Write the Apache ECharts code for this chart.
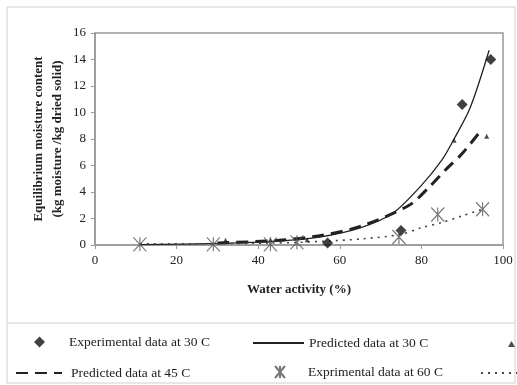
<!DOCTYPE html>
<html>
<head>
<meta charset="utf-8">
<script src="https://cdn.jsdelivr.net/npm/echarts@6/dist/echarts.min.js"></script>
<style>
  html, body { margin: 0; padding: 0; background: #fff; }
  #container { width: 517px; height: 385px; }
</style>
</head>
<body>
<div id="container"></div>
<script>
let xTicks = [0, 20, 40, 60, 80, 100];
let yTicks = [0, 2, 4, 6, 8, 10, 12, 14, 16];
let seriesNames = [
  "Experimental data at 30 C",
  "Predicted data at 30 C",
  "Experimental data at 45 C",
  "Predicted data at 45 C",
  "Exprimental data at 60 C",
  "Predicted data at 60 C"
];
// [water activity %, moisture content]
let exp30 = [[57, 0.15], [75, 1.1], [90, 10.6], [97, 14]];
let pred30 = [[11, 0.03], [30, 0.12], [45, 0.3], [55, 0.6], [65, 1.3], [73, 2.4], [80, 4.5], [85, 6.4], [88, 8.0], [92, 10.4], [96.6, 14.7]];
let exp45 = [[32, 0.35], [43, 0.4], [52, 0.4], [88, 7.9], [96, 8.2]];
let pred45 = [[30, 0.15], [45, 0.35], [55, 0.7], [65, 1.4], [77, 3.0], [82, 4.4], [86, 5.7], [90, 6.9], [95, 8.8]];
let exp60 = [[11, 0.05], [29, 0.05], [43, 0.05], [49.5, 0.2], [74.5, 0.6], [84, 2.3], [95, 2.7]];
let pred60 = [[11, 0.1], [29, 0.1], [43, 0.15], [50, 0.2], [57, 0.3], [65, 0.45], [75, 0.8], [80, 1.3], [85, 1.7], [90, 2.2], [95, 2.7]];

let serif = "Liberation Serif";
let ink = "#222";
let asterisk = "path://M0,0L10,12M10,0L0,12M5,0L5,12";

let dom = document.getElementById("container");
let myChart = echarts.init(dom, null, { renderer: "canvas" });

function legendAt(item, left, top, w, h, padLeft, hideSymbol) {
  let lg = {
    data: [item],
    left: left,
    top: top,
    itemWidth: w,
    itemHeight: h,
    padding: 0,
    selectedMode: false,
    textStyle: { fontFamily: serif, fontSize: 13.5, color: ink, padding: [0, 0, 0, padLeft] }
  };
  if (hideSymbol) {
    lg.itemStyle = { opacity: 0, borderWidth: 0 };
  }
  return lg;
}

let option = {
  animation: false,
  backgroundColor: "#fff",
  graphic: [
    {
      type: "rect",
      shape: { x: 7, y: 7, width: 508, height: 376 },
      style: { fill: "none", stroke: "#d0d0d0", lineWidth: 1 }
    },
    {
      type: "line",
      shape: { x1: 7, y1: 323, x2: 515, y2: 323 },
      style: { stroke: "#d0d0d0", lineWidth: 1 }
    }
  ],
  legend: [
    legendAt({ name: seriesNames[0], icon: "diamond" }, 34, 335, 11, 11, 19, false),
    legendAt(seriesNames[1], 252, 336, 51, 10, 0, true),
    legendAt({ name: seriesNames[2], icon: "triangle" }, 508, 337, 7, 6, 0, false),
    legendAt(seriesNames[3], 15, 366, 46, 10, 4, true),
    legendAt(seriesNames[4], 274, 365, 12, 12, 17, false),
    legendAt(seriesNames[5], 480, 366, 40, 10, 0, true)
  ],
  grid: {
    left: 95,
    right: 14,
    top: 33,
    bottom: 140,
    show: true,
    borderColor: "#999",
    borderWidth: 1.5
  },
  xAxis: {
    type: "value",
    min: xTicks[0],
    max: xTicks[xTicks.length - 1],
    interval: 20,
    name: "Water activity (%)",
    nameLocation: "middle",
    nameGap: 38,
    nameTextStyle: { fontFamily: serif, fontSize: 13, fontWeight: "bold", color: ink },
    axisLine: { lineStyle: { color: "#999", width: 1.5 } },
    axisTick: { show: true, length: 4, lineStyle: { color: "#999" } },
    splitLine: { show: false },
    axisLabel: { fontFamily: serif, fontSize: 13, color: ink, margin: 9 }
  },
  yAxis: {
    type: "value",
    min: yTicks[0],
    max: yTicks[yTicks.length - 1],
    interval: 2,
    name: "Equilibrium moisture content\n(kg moisture /kg dried solid)",
    nameLocation: "middle",
    nameRotate: 90,
    nameGap: 28,
    nameMoveOverlap: false,
    nameTextStyle: { fontFamily: serif, fontSize: 13, fontWeight: "bold", color: ink, lineHeight: 19 },
    axisLine: { show: true, lineStyle: { color: "#999", width: 1.5 } },
    axisTick: { show: true, length: 4, lineStyle: { color: "#999" } },
    splitLine: { show: false },
    axisLabel: { fontFamily: serif, fontSize: 13, color: ink, margin: 9 }
  },
  series: [
    {
      name: seriesNames[0],
      type: "scatter",
      symbol: "diamond",
      symbolSize: 11,
      itemStyle: { color: "#111" },
      data: exp30,
      z: 5
    },
    {
      name: seriesNames[1],
      type: "line",
      smooth: 0.3,
      symbol: "none",
      lineStyle: { color: "#222", width: 1.3, type: "solid" },
      itemStyle: { color: "#222" },
      data: pred30
    },
    {
      name: seriesNames[2],
      type: "scatter",
      symbol: "triangle",
      symbolSize: 5,
      itemStyle: { color: "#222" },
      data: exp45,
      z: 5
    },
    {
      name: seriesNames[3],
      type: "line",
      smooth: 0.3,
      symbol: "none",
      lineStyle: { color: "#222", width: 3, type: [12, 7] },
      itemStyle: { color: "#222" },
      data: pred45
    },
    {
      name: seriesNames[4],
      type: "scatter",
      symbol: asterisk,
      symbolSize: [13, 14],
      itemStyle: { color: "rgba(0,0,0,0)", borderColor: "#555", borderWidth: 1.2 },
      data: exp60,
      z: 5
    },
    {
      name: seriesNames[5],
      type: "line",
      smooth: 0.3,
      symbol: "none",
      lineStyle: { color: "#444", width: 1.6, type: [2, 5] },
      itemStyle: { color: "#444" },
      data: pred60
    }
  ]
};

if (option && typeof option === "object") {
  myChart.setOption(option);
}
window.addEventListener("resize", myChart.resize);
</script>
</body>
</html>
